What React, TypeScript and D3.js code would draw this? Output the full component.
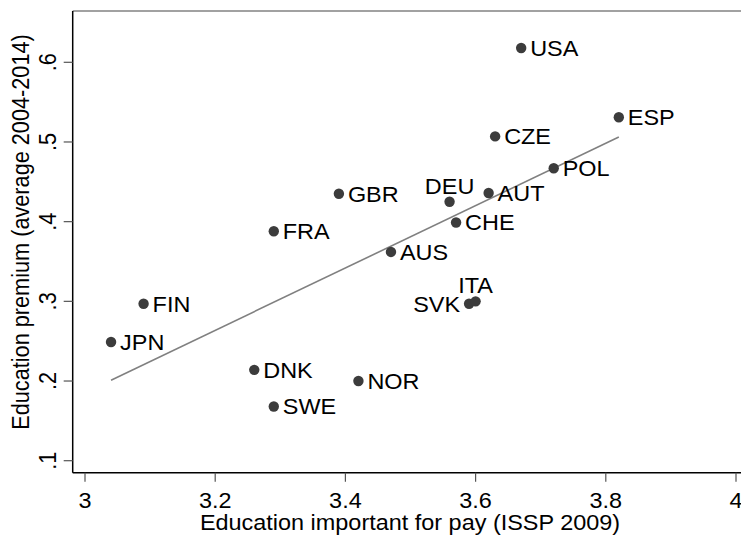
import React from "react";
import * as d3 from "d3";

// ISSP 2009 vs education premium, one point per country
const countries = ["JPN", "FIN", "DNK", "SWE", "FRA", "GBR", "NOR", "AUS", "DEU", "CHE", "SVK", "ITA", "AUT", "CZE", "USA", "POL", "ESP"];
const eduPay = [3.04, 3.09, 3.26, 3.29, 3.29, 3.39, 3.42, 3.47, 3.56, 3.57, 3.59, 3.6, 3.62, 3.63, 3.67, 3.72, 3.82];
const premium = [0.249, 0.297, 0.214, 0.168, 0.388, 0.435, 0.2, 0.362, 0.425, 0.399, 0.297, 0.3, 0.436, 0.507, 0.618, 0.467, 0.531];
// label placement (clock position as in the original)
const labelPos = ["r", "r", "r", "r", "r", "r", "r", "r", "t", "r", "l", "t", "r", "r", "r", "r", "r"];

const xTicks = [3, 3.2, 3.4, 3.6, 3.8, 4];
const yTicks = [0.1, 0.2, 0.3, 0.4, 0.5, 0.6];

const W = 741, H = 537;
const m = { t: 11, l: 72.7, b: 472.7 };
const FONT = "'Liberation Sans', Arial, Helvetica, sans-serif";
const FS = 21.7;
const SX = 1.08; // the source picture is a bit stretched sideways

export default function App() {
  const x = d3.scaleLinear().domain([3, 4]).range([85, 736]);
  const y = d3.scaleLinear().domain([0.1, 0.6]).range([460.7, 62.3]);

  // linear fit (lfit)
  const mx = d3.mean(eduPay)!, my = d3.mean(premium)!;
  const sxy = d3.sum(eduPay, (v, i) => (v - mx) * (premium[i] - my));
  const sxx = d3.sum(eduPay, (v) => (v - mx) ** 2);
  const b = sxy / sxx, a = my - b * mx;
  const [x0, x1] = d3.extent(eduPay) as [number, number];
  const fit = d3.line<number>().x((v) => x(v)).y((v) => y(a + b * v))([x0, x1]);

  const fmtY = (v: number) => d3.format(".1f")(v).replace(/^0/, "");
  const at = (px: number, py: number, rot = 0) =>
    `translate(${px},${py}) scale(${SX},1)` + (rot ? ` rotate(${rot})` : "");

  return (
    <svg width={W} height={H} style={{ position: "fixed", left: 0, top: 0, background: "#fff" }} fontFamily={FONT}>
      <rect width={W} height={H} fill="#fff" />
      {/* frame */}
      <line x1={m.l} x2={W} y1={m.t} y2={m.t} stroke="#444" strokeWidth={1.2} />
      <line x1={m.l} x2={m.l} y1={m.t} y2={m.b} stroke="#000" strokeWidth={1.5} />
      <line x1={m.l} x2={W} y1={m.b} y2={m.b} stroke="#000" strokeWidth={1.5} />

      {/* y axis */}
      {yTicks.map((t) => (
        <g key={t}>
          <line x1={m.l - 9} x2={m.l} y1={y(t)} y2={y(t)} stroke="#555" strokeWidth={1.2} />
          <text transform={at(m.l - 17, y(t), -90)} textAnchor="middle" fontSize={FS}>
            {fmtY(t)}
          </text>
        </g>
      ))}
      <text transform={at(29, 232, -90)} textAnchor="middle" fontSize={FS}>
        Education premium (average 2004-2014)
      </text>

      {/* x axis */}
      {xTicks.map((t) => (
        <g key={t}>
          <line x1={x(t)} x2={x(t)} y1={m.b} y2={m.b + 9} stroke="#555" strokeWidth={1.2} />
          <text transform={at(x(t), m.b + 35)} textAnchor="middle" fontSize={FS}>
            {String(t)}
          </text>
        </g>
      ))}
      <text transform={at(410, m.b + 57)} textAnchor="middle" fontSize={FS}>
        Education important for pay (ISSP 2009)
      </text>

      {/* fitted line */}
      <path d={fit ?? ""} fill="none" stroke="#808080" strokeWidth={1.6} />

      {/* points */}
      {countries.map((c, i) => {
        const cx = x(eduPay[i]), cy = y(premium[i]);
        const p = labelPos[i];
        const lx = p === "r" ? cx + 9 : p === "l" ? cx - 9 : cx;
        const ly = p === "t" ? cy - 8 : cy + FS * 0.36;
        const anchor = p === "r" ? "start" : p === "l" ? "end" : "middle";
        return (
          <g key={c}>
            <circle cx={cx} cy={cy} r={5.2} fill="#3c3c3c" />
            <text transform={at(lx, ly)} textAnchor={anchor} fontSize={FS}>
              {c}
            </text>
          </g>
        );
      })}
    </svg>
  );
}
